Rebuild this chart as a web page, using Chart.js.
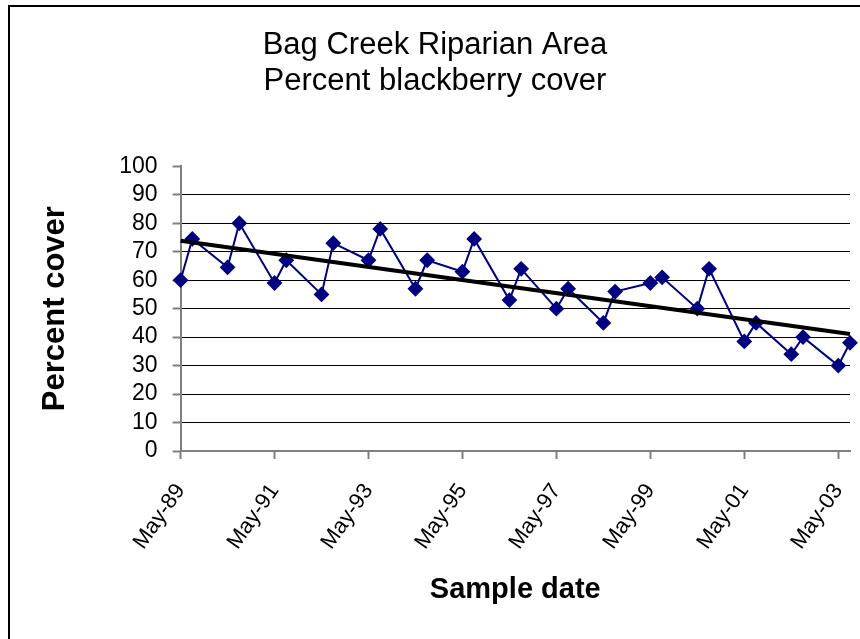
<!DOCTYPE html>
<html>
<head>
<meta charset="utf-8">
<script src="https://cdn.jsdelivr.net/npm/chart.js@4"></script>
<style>
  html, body { margin: 0; padding: 0; background: #fff; }
  #wrap { width: 860px; height: 639px; }
</style>
</head>
<body>
<div id="wrap"><canvas id="canvas" width="860" height="639"></canvas></div>
<script>
// sampled twice a year, May and Aug
const sampleDates = ['May-89','Aug-89','May-90','Aug-90','May-91','Aug-91','May-92','Aug-92',
  'May-93','Aug-93','May-94','Aug-94','May-95','Aug-95','May-96','Aug-96','May-97','Aug-97',
  'May-98','Aug-98','May-99','Aug-99','May-00','Aug-00','May-01','Aug-01','May-02','Aug-02',
  'May-03','Aug-03']
const cover = [60, 74.5, 64.5, 80, 59, 67, 55, 73, 67, 78, 57, 67, 63, 74.5, 53, 64, 50, 57,
  45, 56, 59, 61, 50, 64, 38.5, 45, 34, 40, 30, 38]
const yTicks = [0, 10, 20, 30, 40, 50, 60, 70, 80, 90, 100]
const xTickDates = ['May-89','May-91','May-93','May-95','May-97','May-99','May-01','May-03']

const monthNames = ['Jan','Feb','Mar','Apr','May','Jun','Jul','Aug','Sep','Oct','Nov','Dec']
const baseMonth = 4 // May-89 is month 0

// 'May-89' -> months since May-89
const toMonth = s => {
  const [mon, yy] = s.split('-')
  const year = +yy < 50 ? 2000 + +yy : 1900 + +yy
  return (year - 1989) * 12 + monthNames.indexOf(mon) - baseMonth
}
const toLabel = v => {
  const m = v + baseMonth
  const year = 1989 + Math.floor(m / 12)
  return monthNames[m % 12] + '-' + String(year % 100).padStart(2, '0')
}

const points = sampleDates.map((d, i) => ({x: toMonth(d), y: cover[i]}))
const xTickValues = xTickDates.map(toMonth)
const xMin = points[0].x
const xMax = points[points.length - 1].x

// linear trend (least squares)
const n = points.length
const mx = points.reduce((a, p) => a + p.x, 0) / n
const my = points.reduce((a, p) => a + p.y, 0) / n
let sxy = 0, sxx = 0
points.forEach(p => { sxy += (p.x - mx) * (p.y - my); sxx += (p.x - mx) ** 2 })
const slope = sxy / sxx
const trend = [xMin, xMax].map(x => ({x: x, y: my + slope * (x - mx)}))

const frame = {
  id: 'frame',
  beforeDraw(chart) {
    const c = chart.ctx
    c.save()
    c.fillStyle = '#fff'
    c.fillRect(0, 0, chart.width, chart.height)
    c.fillStyle = '#000'
    c.fillRect(8, 5, chart.width - 8, 2)
    c.fillRect(8, 5, 2, chart.height - 5)
    c.restore()
  }
}

const family = "'Liberation Sans', Arial, sans-serif"

new Chart(document.getElementById('canvas').getContext('2d'), {
  type: 'line',
  data: {
    datasets: [{
      label: 'Percent cover',
      data: points,
      borderColor: '#000080',
      backgroundColor: '#000080',
      borderWidth: 2,
      pointStyle: 'rectRot',
      pointRadius: 6.5,
      pointHoverRadius: 6.5,
      clip: false,
      order: 1
    }, {
      label: 'Linear trend',
      data: trend,
      borderColor: '#000',
      borderWidth: 4,
      pointRadius: 0,
      clip: false,
      order: 0
    }]
  },
  options: {
    responsive: false,
    animation: false,
    layout: { padding: { left: 20, right: 10, top: 0, bottom: 10 } },
    plugins: {
      legend: { display: false },
      tooltip: { enabled: false },
      title: {
        display: true,
        text: ['Bag Creek Riparian Area', 'Percent blackberry cover'],
        color: '#000',
        font: { family: family, size: 31, weight: 'normal', lineHeight: 1.15 },
        padding: { top: 28, bottom: 67 }
      }
    },
    scales: {
      x: {
        type: 'linear',
        min: xMin,
        max: xMax,
        afterBuildTicks: axis => { axis.ticks = xTickValues.map(v => ({value: v})) },
        afterFit: axis => { axis.paddingLeft = 0; axis.paddingRight = 0; axis.height = 178 },
        grid: { drawOnChartArea: false, drawTicks: true, tickLength: 8, tickColor: '#808080', tickWidth: 2 },
        border: { color: '#808080', width: 2 },
        ticks: {
          callback: v => toLabel(v),
          color: '#000',
          font: { family: family, size: 22 },
          minRotation: 55,
          maxRotation: 55,
          autoSkip: false,
          padding: 20
        },
        title: {
          display: true,
          text: 'Sample date',
          color: '#000',
          font: { family: family, size: 29, weight: 'bold', lineHeight: 1.2 },
          padding: { top: 10, bottom: 22 }
        }
      },
      y: {
        min: 0,
        max: 100,
        afterBuildTicks: axis => { axis.ticks = yTicks.map(v => ({value: v})) },
        afterFit: axis => { axis.paddingTop = 0; axis.paddingBottom = 0 },
        grid: {
          color: ctx => ctx.tick && ctx.tick.value === 100 ? 'rgba(0,0,0,0)' : '#000',
          lineWidth: 1,
          tickLength: 8,
          tickColor: '#808080',
          tickWidth: 2
        },
        border: { color: '#808080', width: 2 },
        ticks: {
          color: '#000',
          font: { family: family, size: 23, lineHeight: 1 },
          autoSkip: false,
          padding: 15
        },
        title: {
          display: true,
          text: 'Percent cover',
          color: '#000',
          font: { family: family, size: 31, weight: 'bold', lineHeight: 1.2 },
          padding: { top: 17, bottom: 30 }
        }
      }
    }
  },
  plugins: [frame]
})
</script>
</body>
</html>
